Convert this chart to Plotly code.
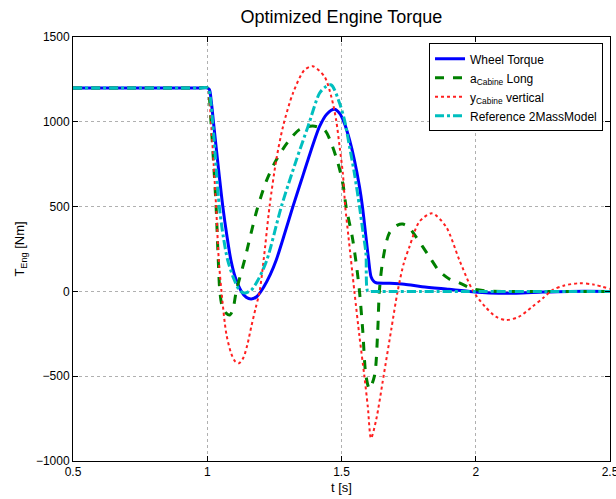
import plotly.graph_objects as go

# Wheel Torque
t_wheel = [0.5, 0.75, 0.9, 0.97, 1.0, 1.008, 1.015, 1.023, 1.04, 1.058, 1.073, 1.088, 1.105,
           1.127, 1.145, 1.164, 1.185, 1.21, 1.235, 1.257, 1.29, 1.319, 1.35, 1.375, 1.418,
           1.445, 1.474, 1.493, 1.511, 1.53, 1.548, 1.567, 1.578, 1.591, 1.6, 1.61, 1.62,
           1.629, 1.672, 1.734, 1.8, 1.9, 1.988, 2.05, 2.15, 2.25, 2.35, 2.5]
T_wheel = [1200, 1200, 1200, 1200, 1200, 1190, 1120, 1000, 750, 500, 330, 185, 80,
           0, -35, -45, -30, 25, 100, 185, 350, 500, 652, 775, 971,
           1045, 1074, 1050, 991, 893, 775, 617, 500, 322, 200, 87, 60,
           51, 48, 42, 28, 12, -2, -9, -11, -4, 0, 0]

# a_Cabine Long
t_along = [0.5, 0.75, 0.9, 0.97, 1.0, 1.006, 1.014, 1.024, 1.033, 1.041, 1.047, 1.056, 1.07,
           1.084, 1.095, 1.108, 1.139, 1.185, 1.22, 1.257, 1.3, 1.344, 1.393, 1.437, 1.462,
           1.487, 1.505, 1.517, 1.54, 1.556, 1.567, 1.579, 1.591, 1.604, 1.623, 1.635, 1.641,
           1.654, 1.678, 1.709, 1.728, 1.75, 1.777, 1.827, 1.864, 1.9, 1.939, 1.988, 2.05,
           2.2, 2.35, 2.5]
T_along = [1200, 1200, 1200, 1200, 1200, 1170, 1000, 750, 500, 185, 0, -90, -128,
           -139, -110, 0, 185, 480, 650, 775, 880, 955, 975, 952, 873,
           755, 637, 500, 322, 150, 0, -228, -497, -575, -497, -228, 0,
           185, 343, 391, 397, 380, 323, 205, 120, 75, 50, 15, 2,
           0, 0, 0]

# y_Cabine vertical
t_yvert = [0.5, 0.75, 0.9, 0.97, 1.0, 1.006, 1.014, 1.024, 1.033, 1.043, 1.053, 1.071, 1.09,
           1.105, 1.118, 1.135, 1.15, 1.164, 1.18, 1.195, 1.21, 1.232, 1.257, 1.282, 1.319,
           1.362, 1.393, 1.437, 1.462, 1.48, 1.493, 1.505, 1.514, 1.526, 1.548, 1.567, 1.585,
           1.598, 1.61, 1.629, 1.657, 1.685, 1.709, 1.732, 1.753, 1.79, 1.837, 1.889, 1.939,
           1.988, 2.035, 2.075, 2.112, 2.16, 2.211, 2.25, 2.286, 2.33, 2.385, 2.44, 2.5]
T_yvert = [1200, 1200, 1200, 1200, 1200, 1170, 1000, 750, 500, 185, 0, -250, -370,
           -415, -424, -390, -310, -208, -100, 0, 185, 500, 775, 971, 1168,
           1305, 1327, 1266, 1148, 1011, 853, 696, 500, 322, 0, -267, -497,
           -680, -866, -758, -497, -228, 0, 166, 263, 411, 460, 382, 185,
           8, -90, -149, -169, -150, -90, -40, 8, 35, 48, 40, 15]

# Reference 2MassModel
t_ref = [0.5, 0.75, 0.9, 0.97, 1.0, 1.008, 1.02, 1.045, 1.06, 1.076, 1.1, 1.121, 1.139,
         1.164, 1.19, 1.222, 1.276, 1.332, 1.375, 1.418, 1.44, 1.462, 1.493, 1.511, 1.53,
         1.548, 1.567, 1.58, 1.591, 1.598, 1.61, 1.65, 1.8, 2.0, 2.25, 2.5]
T_ref = [1200, 1200, 1200, 1200, 1200, 1175, 1000, 500, 320, 185, 70, 5, -10,
         8, 70, 185, 500, 775, 971, 1168, 1205, 1217, 1109, 1011, 853,
         696, 500, 350, 225, 0, 0, 0, 0, 0, 0, 0]

x_ticks = [0.5, 1, 1.5, 2, 2.5]
y_ticks = [-1000, -500, 0, 500, 1000, 1500]

FONT = "Arial, Liberation Sans, sans-serif"
SMOOTH = 0.8

fig = go.Figure()
fig.add_trace(go.Scatter(
    x=t_wheel, y=T_wheel, mode="lines", name="Wheel Torque",
    line=dict(color="#0000ff", width=3, shape="spline", smoothing=SMOOTH)))
fig.add_trace(go.Scatter(
    x=t_along, y=T_along, mode="lines", name="a<sub>Cabine</sub> Long",
    line=dict(color="#008000", width=3, dash="dash", shape="spline", smoothing=SMOOTH)))
fig.add_trace(go.Scatter(
    x=t_yvert, y=T_yvert, mode="lines", name="y<sub>Cabine</sub> vertical",
    line=dict(color="#ff2020", width=2, dash="dot", shape="spline", smoothing=SMOOTH)))
fig.add_trace(go.Scatter(
    x=t_ref, y=T_ref, mode="lines", name="Reference 2MassModel",
    line=dict(color="#00bfbf", width=3, dash="dashdot", shape="spline", smoothing=SMOOTH)))

axis_common = dict(
    showline=True, linecolor="#000000", linewidth=1, mirror="ticks",
    ticks="inside", ticklen=5, tickcolor="#000000",
    showgrid=True, gridcolor="#b0b0b0", griddash="dot", gridwidth=1,
    zeroline=False, tickfont=dict(family=FONT, size=12, color="#000000"),
    ticklabeloverflow="allow", automargin=False,
)

fig.update_layout(
    width=616, height=499,
    margin=dict(l=73, r=6, t=37, b=38, autoexpand=False),
    paper_bgcolor="#ffffff", plot_bgcolor="#ffffff",
    font=dict(family=FONT, size=12, color="#000000"),
    title=dict(text="Optimized Engine Torque", x=0.5, xanchor="center",
               xref="paper", y=0.966, yref="container", yanchor="middle",
               font=dict(family=FONT, size=18, color="#000000")),
    xaxis=dict(range=[0.5, 2.5], tickvals=x_ticks, ticktext=["0.5", "1", "1.5", "2", "2.5"],
               title=dict(text="t [s]", font=dict(family=FONT, size=13), standoff=4),
               **axis_common),
    yaxis=dict(range=[-1000, 1500], tickvals=y_ticks,
               title=dict(text="T<sub>Eng</sub> [Nm]", font=dict(family=FONT, size=13), standoff=8),
               **axis_common),
    legend=dict(x=0.987, y=0.985, xanchor="right", yanchor="top",
                bgcolor="#ffffff", bordercolor="#000000", borderwidth=1,
                font=dict(family=FONT, size=12, color="#000000"),
                itemwidth=30, tracegroupgap=0),
    showlegend=True,
)

fig.write_html("out.html")
